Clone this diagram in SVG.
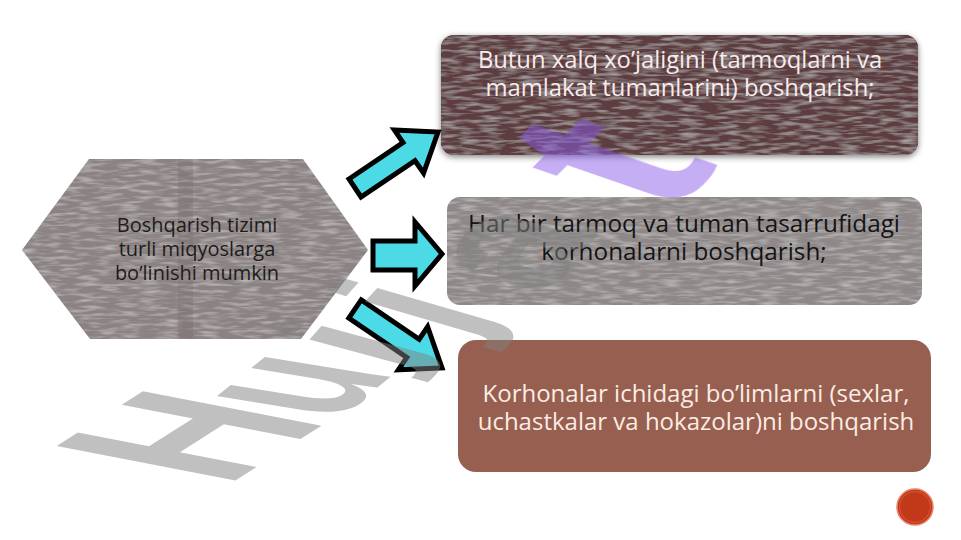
<svg xmlns="http://www.w3.org/2000/svg" width="961" height="540" viewBox="0 0 961 540">
  <style>
    .t { font-family: "Open Sans", "Noto Sans", "DejaVu Sans", sans-serif; text-anchor: middle; }
    .arrow { fill: #4cdbe6; stroke: #000; stroke-width: 5; stroke-linejoin: miter; }
    .wm { font-family: "Liberation Sans", "Arial", sans-serif; font-weight: bold; font-size: 100px; }
    .wg { fill: #808080; }
  </style>
  <defs>
    <filter id="grain" x="0" y="0" width="100%" height="100%">
      <feTurbulence type="fractalNoise" baseFrequency="0.05 0.3" numOctaves="2" seed="5" result="n"/>
      <feColorMatrix in="n" type="matrix" values="0 0 0 0 1  0 0 0 0 1  0 0 0 0 1  0 0 0 0.7 -0.3" result="w"/>
      <feComposite in="w" in2="SourceAlpha" operator="in" result="wc"/>
      <feMerge><feMergeNode in="SourceGraphic"/><feMergeNode in="wc"/></feMerge>
    </filter>
    <filter id="shadow" x="-10%" y="-20%" width="120%" height="150%">
      <feGaussianBlur in="SourceAlpha" stdDeviation="3"/>
      <feOffset dx="0" dy="2" result="b"/>
      <feComponentTransfer><feFuncA type="linear" slope="0.5"/></feComponentTransfer>
      <feMerge><feMergeNode/><feMergeNode in="SourceGraphic"/></feMerge>
    </filter>
  </defs>

  <rect width="961" height="540" fill="#ffffff"/>

  <g id="source">
    <polygon points="22,250 89,159 303,159 368,250 301,339 90,339" fill="#8b8282" filter="url(#grain)"/>
    <rect x="178" y="159" width="15" height="180" fill="#746a6a" opacity="0.3"/>
    <text class="t" font-size="20" fill="#1c1c1c"><tspan x="197" y="232">Boshqarish tizimi</tspan><tspan x="197" y="256">turli miqyoslarga</tspan><tspan x="197" y="280">bo’linishi mumkin</tspan></text>
  </g>

  <g id="level1">
    <rect x="441" y="35" width="477" height="120" rx="13" fill="#5d3d40" filter="url(#shadow)"/>
    <rect x="441" y="35" width="477" height="120" rx="13" fill="#5d3d40" filter="url(#grain)"/>
    <text class="t" font-size="23.8" fill="#f7ecec"><tspan x="680" y="68">Butun xalq xo’jaligini (tarmoqlarni va</tspan><tspan x="680" y="96">mamlakat tumanlarini) boshqarish;</tspan></text>
  </g>

  <g id="level2">
    <rect x="447" y="197" width="475" height="108" rx="13" fill="#8f8888" filter="url(#grain)"/>
    <text class="t" font-size="24.3" fill="#141414"><tspan x="684" y="232">Har bir tarmoq va tuman tasarrufidagi</tspan><tspan x="684" y="260">korhonalarni boshqarish;</tspan></text>
  </g>

  <g id="level3">
    <rect x="458" y="340" width="473" height="132" rx="18" fill="#975f4f"/>
    <text class="t" font-size="24" fill="#fbece4"><tspan x="696" y="402">Korhonalar ichidagi bo’limlarni (sexlar,</tspan><tspan x="696" y="430">uchastkalar va hokazolar)ni boshqarish</tspan></text>
  </g>

  <g id="connectors">
    <polygon class="arrow" points="349,179 403,142.5 394.4,130 438,132 423.6,173 415,160.7 361,197"/>
    <polygon class="arrow" points="373,241 415,241 415,222 442,254 415,286 415,270 373,270"/>
    <polygon class="arrow" points="361.2,299.9 419.2,339.2 427.6,326.8 442,368 398.4,369.8 406.8,357.4 348.8,318.1"/>
  </g>

  <g id="watermark" opacity="0.5">
    <text class="wm wg" transform="matrix(1.465 -0.93 2.597 0.5 225.6 486.6)">H</text>
    <text class="wm wg" transform="matrix(1.0 -0.82 2.37 0.385 336 421.5)">u</text>
    <text class="wm wg" transform="matrix(0.9 -1.0 1.726 0.466 394.2 371.2)">j</text>
    <text class="wm wg" transform="matrix(0.9 -1.0 1.97 0.575 462.8 338.9)">j</text>
    <text class="wm wg" transform="matrix(1.0 -1.2 2.0 0.55 544 298)">a</text>
    <text class="wm" fill="#8a5ce6" transform="matrix(1.6 -1.6 2.6 0.9 668 217)">t</text>
  </g>

  <g id="page">
    <circle cx="915" cy="507" r="18" fill="#c2391a" stroke="#e8866a" stroke-width="1.5"/>
    <circle cx="915" cy="507" r="15.5" fill="none" stroke="#d9583a" stroke-width="1"/>
  </g>
</svg>
